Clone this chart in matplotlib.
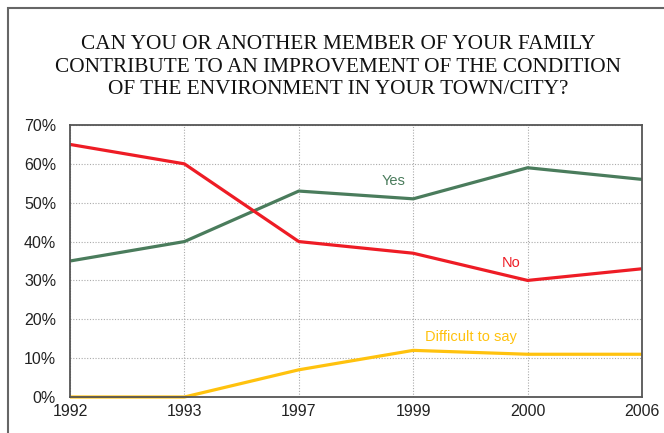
import matplotlib.pyplot as plt
from matplotlib.patches import Rectangle

# Data
years = ["1992", "1993", "1997", "1999", "2000", "2006"]
yes = [35, 40, 53, 51, 59, 56]
no = [65, 60, 40, 37, 30, 33]
difficult = [0, 0, 7, 12, 11, 11]

green = "#4a7c5c"
red = "#ee1c25"
yellow = "#ffc20e"

fig = plt.figure(figsize=(6.64, 4.33), dpi=100)
ax = fig.add_axes([70 / 664, 1 - 397 / 433, 572 / 664, 272 / 433])

# outer frame (cut off at right and bottom like the reference)
fig.patches.append(Rectangle((8 / 664, -0.05), 1.2, 1 - 8 / 433 + 0.05,
                             transform=fig.transFigure, fill=False,
                             edgecolor="#666666", linewidth=1.5))

x = list(range(len(years)))
ax.plot(x, yes, color=green, linewidth=2.3, solid_capstyle="butt")
ax.plot(x, no, color=red, linewidth=2.3, solid_capstyle="butt")
ax.plot(x, difficult, color=yellow, linewidth=2.3, solid_capstyle="butt", clip_on=False)

ax.set_xlim(0, len(years) - 1)
ax.set_ylim(0, 70)
ax.set_xticks(x)
ax.set_xticklabels(years)
ax.set_yticks(range(0, 71, 10))
ax.set_yticklabels([f"{v}%" for v in range(0, 71, 10)])
ax.tick_params(length=0, labelsize=11.5, labelcolor="#222222")
ax.tick_params(axis="y", pad=10)
ax.tick_params(axis="x", pad=5)
ax.grid(True, linestyle=(0, (1, 1.5)), color="#aaaaaa", linewidth=0.8)
for s in ax.spines.values():
    s.set_color("#555555")
    s.set_linewidth(1.3)

for lab in ax.get_xticklabels() + ax.get_yticklabels():
    lab.set_fontfamily("Liberation Sans")

ax.text(2.72, 54.5, "Yes", color=green, fontsize=10.5, family="Liberation Sans")
ax.text(3.77, 33.5, "No", color=red, fontsize=10.5, family="Liberation Sans")
ax.text(3.1, 14.5, "Difficult to say", color=yellow, fontsize=10.5, family="Liberation Sans")

fig.text(338 / 664, 1 - 67 / 433,
         "CAN YOU OR ANOTHER MEMBER OF YOUR FAMILY\n"
         "CONTRIBUTE TO AN IMPROVEMENT OF THE CONDITION\n"
         "OF THE ENVIRONMENT IN YOUR TOWN/CITY?",
         ha="center", va="center", fontsize=15.3, family="Liberation Serif",
         color="#111111", linespacing=1.27)

fig.savefig("out.png", dpi=100)
